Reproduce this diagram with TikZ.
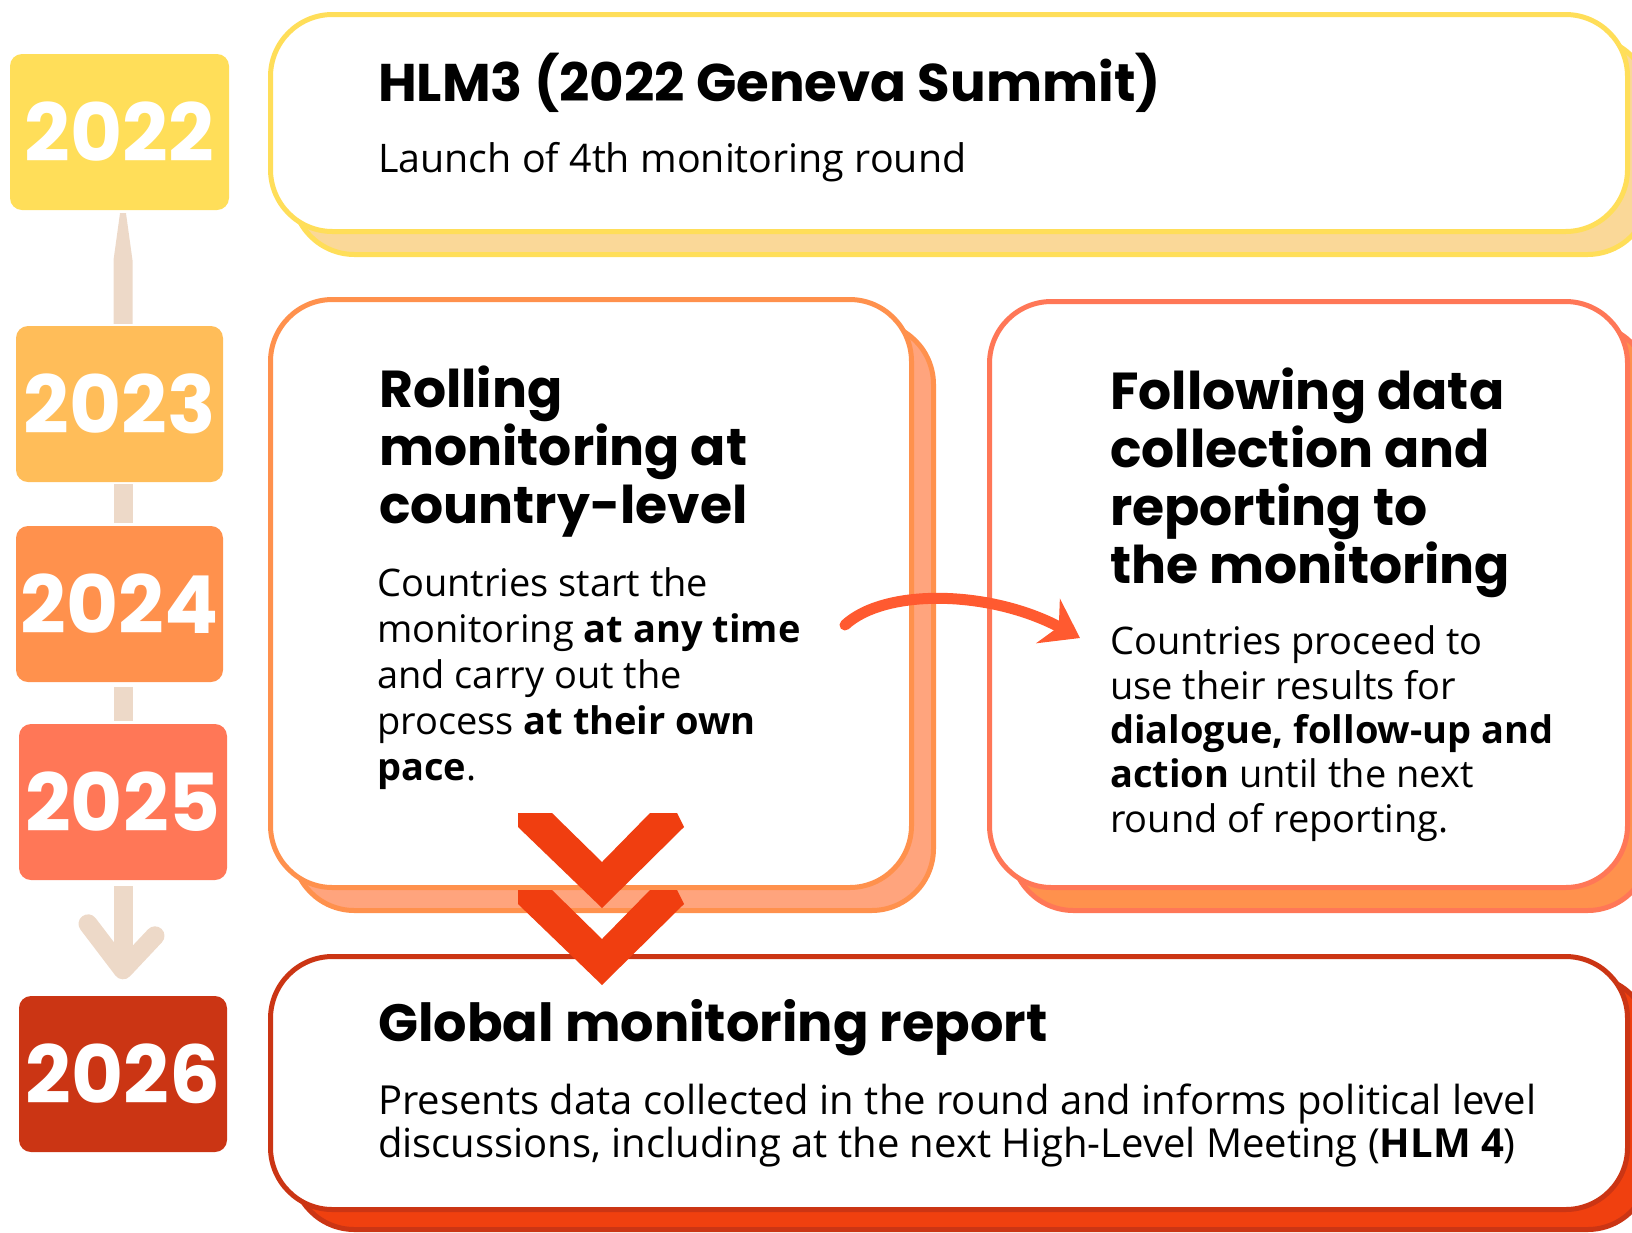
\documentclass[tikz,border=0pt]{standalone}
\usepackage{fontspec}
\setmainfont{Open Sans}
\newfontfamily\headfont{Poppins}
\usepackage{tikz}
\usetikzlibrary{arrows.meta,calc}

\definecolor{yel}{HTML}{FFDE59}
\definecolor{yelsh}{HTML}{FAD898}
\definecolor{amber}{HTML}{FFBD59}
\definecolor{orng}{HTML}{FF914D}
\definecolor{orngsh}{HTML}{FFA47D}
\definecolor{salmon}{HTML}{FF7757}
\definecolor{brick}{HTML}{CB3514}
\definecolor{bricksh}{HTML}{F0400F}
\definecolor{beige}{HTML}{EDD9C8}
\definecolor{arrowc}{HTML}{FF5A30}
\definecolor{chevc}{HTML}{F03E10}

\tikzset{
  yearbox/.style={rounded corners=12pt, minimum width=213pt, minimum height=156pt, inner sep=0pt,
    text=white, font=\headfont\bfseries\fontsize{80}{80}\selectfont},
  stalk/.style={draw=beige, line width=19pt},
  card/.style={draw=#1, fill=white, line width=5pt, rounded corners=62pt},
  cardshadow/.style 2 args={draw=#1, fill=#2, line width=5pt, rounded corners=62pt},
  head/.style={inner sep=0pt, anchor=base west, align=left, font=\headfont\bfseries\fontsize{#1}{58}\selectfont},
  body/.style 2 args={inner sep=0pt, anchor=base west, align=left, font=\fontsize{#1}{#2}\selectfont},
}

\begin{document}
\begin{tikzpicture}[x=1pt,y=-1pt]
      \useasboundingbox (0,0) rectangle (1632,1232);
      \clip (0,0) rectangle (1632,1232);

      \node[yearbox, fill=yel, minimum width=219pt] (y22) at (119.5,132) {2022};
      \node[yearbox, fill=amber, minimum width=207pt] (y23) at (119.5,404) {2023};
      \node[yearbox, fill=orng, minimum width=207pt] (y24) at (119.5,604) {2024};
      \node[yearbox, fill=salmon, minimum width=208pt] (y25) at (123,802) {2025};
      \node[yearbox, fill=brick, minimum width=208pt] (y26) at (123,1074) {2026};

      \coordinate (ax) at (123,0);
      \fill[beige] ($(ax |- y22.south)+(-3,3)$) -- ($(ax |- y22.south)+(3,3)$)
         -- ($(ax |- y22.south)+(9.5,50)$) -- ($(ax |- y23.north)+(9.5,-2)$)
         -- ($(ax |- y23.north)+(-9.5,-2)$) -- ($(ax |- y22.south)+(-9.5,50)$) -- cycle;
      \draw[stalk] ($(ax |- y23.south)+(0,2)$) -- ($(ax |- y24.north)+(0,-3)$);
      \draw[stalk] ($(ax |- y24.south)+(0,5)$) -- ($(ax |- y25.north)+(0,-3)$);
      \draw[stalk] ($(ax |- y25.south)+(0,6)$) -- ($(ax |- y26.north)+(0,-28)$);
      \draw[stalk, line cap=round, line join=round] ($(ax |- y26.north)+(-35,-72)$)
         -- ($(ax |- y26.north)+(0,-26)$) -- ($(ax |- y26.north)+(32,-60)$);

      \draw[cardshadow={yel}{yelsh}] (292.5,37.5) rectangle (1649.5,254.5);
      \draw[card=yel] (270.5,14.5) rectangle (1627.5,231.5);
      \draw[cardshadow={orng}{orngsh}] (292.5,322.5) rectangle (933.5,910.5);
      \draw[card=orng] (270.5,299.5) rectangle (911.5,887.5);
      \draw[cardshadow={salmon}{orng}] (1011.5,324.5) rectangle (1649.5,910.5);
      \draw[card=salmon] (989.5,301.5) rectangle (1627.5,887.5);
      \draw[cardshadow={brick}{bricksh}] (292.5,976.5) rectangle (1649.5,1229.5);
      \draw[card=brick] (270.5,956.5) rectangle (1627.5,1209.5);

      \node[head=53] (hlm) at (378,101) {HLM3 (2022 Geneva Summit)};
      \node[body={39.4}{44}] (hlmtxt) at (378,172) {Launch of 4th monitoring round};

      \node[head=52] (roll) at (379,523) {Rolling\\monitoring at\\country-level};
      \node[body={38}{45.8}] (rolltxt) at (377,780) {Countries start the\\monitoring \textbf{at any time}\\and carry out the\\process \textbf{at their own}\\\textbf{pace}.};

      \node[head=52] (follow) at (1110,583) {Following data\\collection and\\reporting to\\the monitoring};
      \node[body={38}{44.3}] (followtxt) at (1110,832) {Countries proceed to\\use their results for\\\textbf{dialogue, follow-up and}\\\textbf{action} until the next\\round of reporting.};

      \node[head=52.5] (glob) at (378,1041) {Global monitoring report};
      \node[body={40}{43}] (globtxt) at (378,1157) {Presents data collected in the round and informs political level\\discussions, including at the next High-Level Meeting (\textbf{HLM 4})};

      \coordinate (bendstart) at (845,625);
      \coordinate (bendend) at (1080,638);
      \draw[arrowc, line width=11pt, line cap=round, -{Stealth[length=36pt,width=50pt,inset=12pt]}]
         (bendstart) .. controls (885,588) and (990,590) .. (bendend);

      \foreach \dy in {0,77}
         \fill[chevc] (518,813+\dy) -- (552,813+\dy) -- (602,862+\dy) -- (650,813+\dy)
            -- (677,813+\dy) -- (684,827+\dy) -- (602,908+\dy) -- (518,827+\dy) -- cycle;
\end{tikzpicture}
\end{document}
